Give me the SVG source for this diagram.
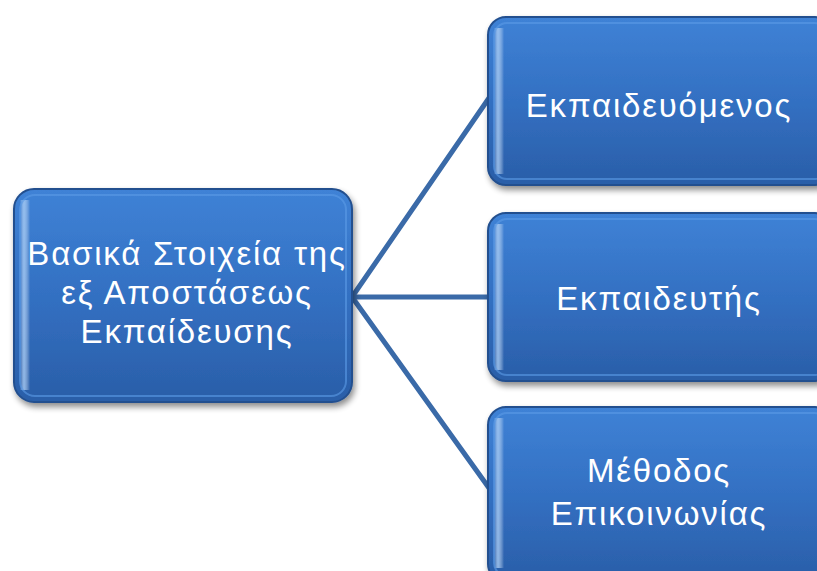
<svg xmlns="http://www.w3.org/2000/svg" width="817" height="571" viewBox="0 0 817 571">
<defs>
<linearGradient id="fill" x1="0" y1="0" x2="0" y2="1">
<stop offset="0" stop-color="#3f82d6"/>
<stop offset="0.5" stop-color="#3370c2"/>
<stop offset="1" stop-color="#2a5ea8"/>
</linearGradient>
<linearGradient id="bevelL" x1="0" y1="0" x2="1" y2="0">
<stop offset="0" stop-color="#ffffff" stop-opacity="0"/>
<stop offset="0.4" stop-color="#a9cdf5" stop-opacity="0.8"/>
<stop offset="1" stop-color="#ffffff" stop-opacity="0"/>
</linearGradient>
<filter id="sh" x="-10%" y="-10%" width="125%" height="130%">
<feGaussianBlur in="SourceAlpha" stdDeviation="3"/>
<feOffset dx="2" dy="4" result="b"/>
<feComponentTransfer><feFuncA type="linear" slope="0.45"/></feComponentTransfer>
<feMerge><feMergeNode/><feMergeNode in="SourceGraphic"/></feMerge>
</filter>
</defs>
<style>
.box{fill:url(#fill);stroke:#24508f;stroke-width:2;filter:url(#sh)}
.inner{fill:none;stroke:#5b9be6;stroke-width:2;stroke-opacity:0.6}
.bev{fill:url(#bevelL)}
.t{font-family:"Liberation Sans",Arial,sans-serif;font-size:33px;letter-spacing:1.8px;fill:#ffffff;text-anchor:middle}
.c{stroke:#3a6aa8;stroke-width:5;fill:none;stroke-linecap:round}
</style>
<rect width="817" height="571" fill="#ffffff"/>
<g id="connectors">
<line class="c" x1="352" y1="297" x2="489" y2="98"/>
<line class="c" x1="352" y1="297" x2="489" y2="297"/>
<line class="c" x1="352" y1="297" x2="489" y2="488"/>
</g>
<g id="root">
<rect class="box" x="14" y="189" width="338" height="213" rx="20"/>
<rect class="bev" x="20" y="200" width="10" height="190"/>
<rect class="inner" x="20" y="195" width="326" height="201" rx="15"/>
<text class="t" x="187" y="265">Βασικά Στοιχεία της</text>
<text class="t" x="187" y="304">εξ Αποστάσεως</text>
<text class="t" x="187" y="343">Εκπαίδευσης</text>
</g>
<g id="n1">
<rect class="box" x="488" y="17" width="345" height="168" rx="18"/>
<rect class="bev" x="494" y="28" width="10" height="146"/>
<rect class="inner" x="494" y="23" width="333" height="156" rx="13"/>
<text class="t" x="659" y="117">Εκπαιδευόμενος</text>
</g>
<g id="n2">
<rect class="box" x="488" y="213" width="345" height="168" rx="18"/>
<rect class="bev" x="494" y="224" width="10" height="146"/>
<rect class="inner" x="494" y="219" width="333" height="156" rx="13"/>
<text class="t" x="659" y="310">Εκπαιδευτής</text>
</g>
<g id="n3">
<rect class="box" x="488" y="407" width="345" height="175" rx="18"/>
<rect class="bev" x="494" y="418" width="10" height="150"/>
<rect class="inner" x="494" y="413" width="333" height="163" rx="13"/>
<text class="t" x="659" y="482">Μέθοδος</text>
<text class="t" x="659" y="525">Επικοινωνίας</text>
</g>
</svg>
